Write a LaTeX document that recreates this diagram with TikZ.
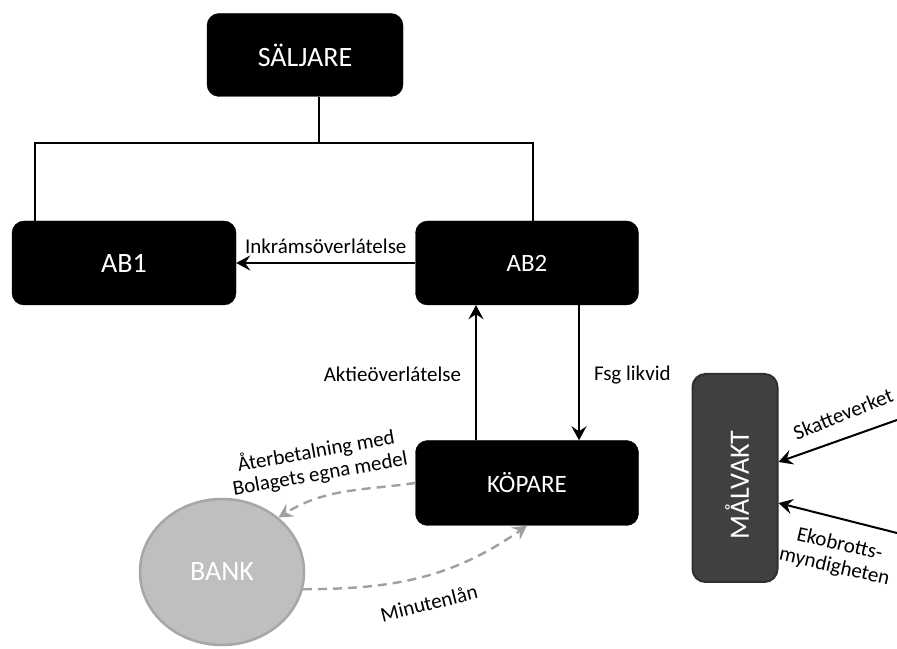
\documentclass[tikz,border=0pt]{standalone}
\usepackage{fontspec}
\setmainfont{Carlito}
\usetikzlibrary{arrows.meta,positioning,calc,shapes.geometric}
\definecolor{bankGray}{HTML}{BFBFBF}
\definecolor{bankEdge}{HTML}{A6A6A6}
\definecolor{flowGray}{HTML}{A0A0A0}
\definecolor{keeperGray}{HTML}{404040}

\begin{document}
\begin{tikzpicture}[x=1pt, y=1pt,
  party/.style={draw=black, fill=black, text=white, rounded corners=12pt,
    font=\fontsize{28}{32}\selectfont, inner sep=0pt},
  flow/.style={-{Stealth[length=14pt,width=15pt,inset=5pt]}, line width=2pt},
  loan/.style={-{Stealth[length=14pt,width=15pt,inset=5pt]}, line width=2.4pt,
    color=flowGray, dash pattern=on 9pt off 6pt},
  lab/.style={font=\fontsize{21}{23}\selectfont, align=center, inner sep=1pt}
]
\useasboundingbox (0,0) rectangle (897,648);
% parties
\node[party, minimum width=196, minimum height=83] (saljare) at (305,593) {SÄLJARE};
\node[party, minimum width=224, minimum height=84] (ab1) at (124,385) {AB1};
\node[party, minimum width=223, minimum height=84, font=\fontsize{25}{29}\selectfont] (ab2) at (527,385) {AB2};
\node[party, minimum width=223, minimum height=85, font=\fontsize{25}{29}\selectfont] (kopare) at (527,165) {KÖPARE};
\node[ellipse, draw=bankEdge, line width=2.5pt, fill=bankGray, text=white, minimum width=164,
  minimum height=146, inner sep=0pt, font=\fontsize{28}{32}\selectfont] (bank) at (222,76) {BANK};
\node[draw=keeperGray!75!black, fill=keeperGray, text=white, rounded corners=13pt,
  line width=2pt, minimum width=85, minimum height=208] (malvakt) at (735,170) {};
\node[text=white, rotate=90, font=\fontsize{28}{32}\selectfont] (malvakttext) at (737,163) {MÅLVAKT};
% ownership lines
\coordinate (split) at (319,505);
\coordinate (left) at (35,505);
\draw[line width=2pt] (saljare.south -| split) -- (split);
\draw[line width=2pt] (left |- ab1.north) -- (left) -- (533,505) -- (533,0 |- ab2.north);
% transfers
\draw[flow] (ab2.west) -- (ab1.east)
  node[lab, midway, above=7pt] (inkram) {Inkrámsöverlátelse};
\draw[flow] (kopare.north -| 476,0) -- (ab2.south -| 476,0)
  node[lab, midway, left=13pt, yshift=-2pt] (aktie) {Aktieöverlátelse};
\draw[flow] (ab2.south -| 579,0) -- (kopare.north -| 579,0)
  node[lab, midway, right=13pt, yshift=-2pt] (likvid) {Fsg likvid};
% financing
\draw[loan] (kopare.west) to[out=188, in=32] (bank.44);
\node[lab, rotate=10] (ater) at (318,186) {Återbetalning med\\Bolagets egna medel};
\draw[loan] (bank.-12) to[out=0, in=215] (kopare.south);
\node[lab, rotate=14] (minut) at (429,45) {Minutenlån};
% authorities
\coordinate (skv) at (897,228);
\coordinate (ekb) at (897,115);
\draw[flow] (skv) -- (malvakt.east |- 0,186);
\draw[flow] (ekb) -- (malvakt.east |- 0,145);
\node[lab, rotate=22] (skatte) at (843,234) {Skatteverket};
\node[lab, rotate=-13] (ekobrott) at (837,92) {Ekobrotts-\\myndigheten};
\end{tikzpicture}
\end{document}
